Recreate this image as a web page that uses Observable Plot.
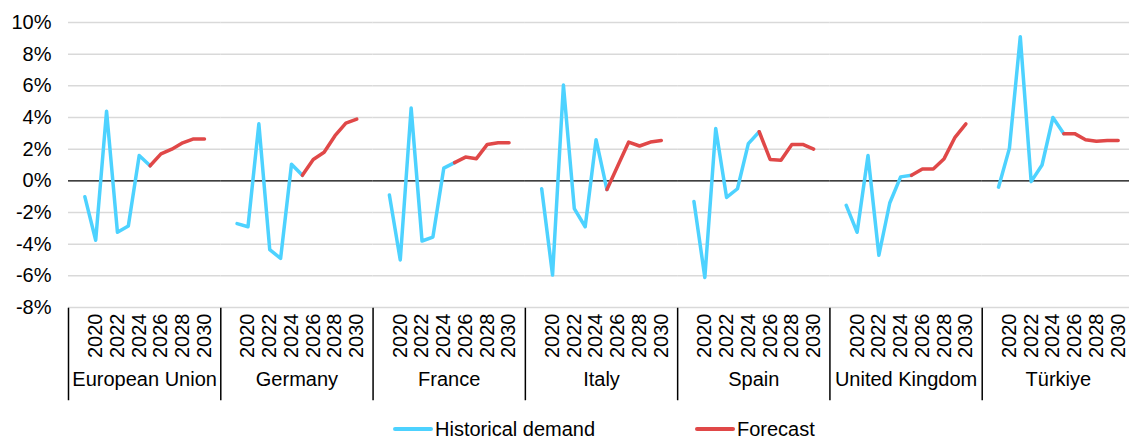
<!DOCTYPE html>
<html>
<head>
<meta charset="utf-8">
<script src="https://cdn.jsdelivr.net/npm/d3@7"></script>
<script src="https://cdn.jsdelivr.net/npm/@observablehq/plot@0.6"></script>
<style>
  html, body { margin: 0; padding: 0; background: #fff; overflow: hidden; }
  body { font-family: "Liberation Sans", Arial, sans-serif; width: 1129px; }
  #legend { position: relative; height: 32px; font-size: 20px; color: #000; }
  .item { position: absolute; top: 3px; height: 28px; display: flex; align-items: center; white-space: nowrap; }
  .swatch { display: inline-block; width: 40px; height: 4px; border-radius: 2px; margin-right: 2px; }
</style>
</head>
<body>
<div id="chart"></div>
<div id="legend"></div>
<script>
// ---- data ----
const countries = ["European Union", "Germany", "France", "Italy", "Spain", "United Kingdom", "Türkiye"];
const years = [2019, 2020, 2021, 2022, 2023, 2024, 2025, 2026, 2027, 2028, 2029, 2030];
const histYears = [2019, 2020, 2021, 2022, 2023, 2024, 2025];
const fcstYears = [2025, 2026, 2027, 2028, 2029, 2030];
const tickYears = [2020, 2022, 2024, 2026, 2028, 2030];
const yTicks = [-8, -6, -4, -2, 0, 2, 4, 6, 8, 10];
const seriesNames = ["Historical demand", "Forecast"];
const seriesColors = ["#4dd2ff", "#e04848"];

const euHist = [-1.0, -3.75, 4.4, -3.25, -2.85, 1.6, 0.95];
const euFcst = [0.95, 1.7, 2.0, 2.4, 2.65, 2.65];
const deHist = [-2.7, -2.9, 3.6, -4.35, -4.9, 1.05, 0.35];
const deFcst = [0.35, 1.35, 1.8, 2.85, 3.65, 3.9];
const frHist = [-0.9, -5.0, 4.6, -3.8, -3.55, 0.8, 1.15];
const frFcst = [1.15, 1.5, 1.4, 2.3, 2.4, 2.4];
const itHist = [-0.5, -5.95, 6.05, -1.75, -2.9, 2.6, -0.55];
const itFcst = [-0.55, 0.95, 2.45, 2.2, 2.45, 2.55];
const esHist = [-1.3, -6.1, 3.3, -1.05, -0.5, 2.35, 3.1];
const esFcst = [3.1, 1.35, 1.3, 2.3, 2.3, 2.0];
const ukHist = [-1.55, -3.25, 1.6, -4.7, -1.4, 0.25, 0.35];
const ukFcst = [0.35, 0.75, 0.75, 1.4, 2.75, 3.6];
const trHist = [-0.4, 2.05, 9.1, -0.05, 1.0, 4.0, 2.98];
const trFcst = [2.98, 2.98, 2.6, 2.5, 2.55, 2.55];

const histByCountry = [euHist, deHist, frHist, itHist, esHist, ukHist, trHist];
const fcstByCountry = [euFcst, deFcst, frFcst, itFcst, esFcst, ukFcst, trFcst];

// ---- table for the library ----
const rows = [];
countries.forEach((c, i) => {
  histByCountry[i].forEach((v, j) => rows.push({country: c, year: histYears[j], value: v, series: seriesNames[0]}));
  fcstByCountry[i].forEach((v, j) => rows.push({country: c, year: fcstYears[j], value: v, series: seriesNames[1]}));
});

const chart = Plot.plot({
  width: 1129,
  height: 412,
  marginLeft: 68,
  marginRight: -5,
  marginTop: 22,
  marginBottom: 105,
  style: {fontFamily: "Liberation Sans, Arial, sans-serif", fontSize: "20px", color: "#000", background: "#fff", overflow: "hidden"},
  x: {type: "point", domain: years, padding: 1.5, round: false},
  y: {domain: [-8, 10]},
  fx: {domain: countries, padding: 0, round: false},
  color: {domain: seriesNames, range: seriesColors},
  marks: [
    Plot.ruleY(yTicks.filter(d => d !== 0), {stroke: "#d9d9d9", strokeWidth: 1.5}),
    Plot.ruleY([0], {stroke: "#000", strokeWidth: 1.3}),
    Plot.frame({anchor: "left", insetTop: 286, insetBottom: -92, stroke: "#000", strokeWidth: 1.5}),
    Plot.axisY(yTicks, {tickSize: 0, tickPadding: 17, tickFormat: d => `${d}%`, fontSize: 20, label: null}),
    Plot.axisX(tickYears, {tickRotate: -90, tickSize: 0, tickPadding: 6, tickFormat: d => String(d), fontSize: 20, label: null}),
    Plot.axisFx({anchor: "bottom", tickSize: 0, tickPadding: 64, fontSize: 20, label: null}),
    Plot.line(rows.filter(d => d.series === seriesNames[0]), {x: "year", y: "value", fx: "country", z: "country", stroke: "series", strokeWidth: 3.5}),
    Plot.line(rows.filter(d => d.series === seriesNames[1]), {x: "year", y: "value", fx: "country", z: "country", stroke: "series", strokeWidth: 3.5})
  ]
});
document.getElementById("chart").appendChild(chart);

// ---- legend ----
const legend = document.getElementById("legend");
const legendLeft = [393, 695];
seriesNames.forEach((name, i) => {
  const item = document.createElement("div");
  item.className = "item";
  item.style.left = legendLeft[i] + "px";
  const sw = document.createElement("span");
  sw.className = "swatch";
  sw.style.background = seriesColors[i];
  item.appendChild(sw);
  item.appendChild(document.createTextNode(name));
  legend.appendChild(item);
});
</script>
</body>
</html>
